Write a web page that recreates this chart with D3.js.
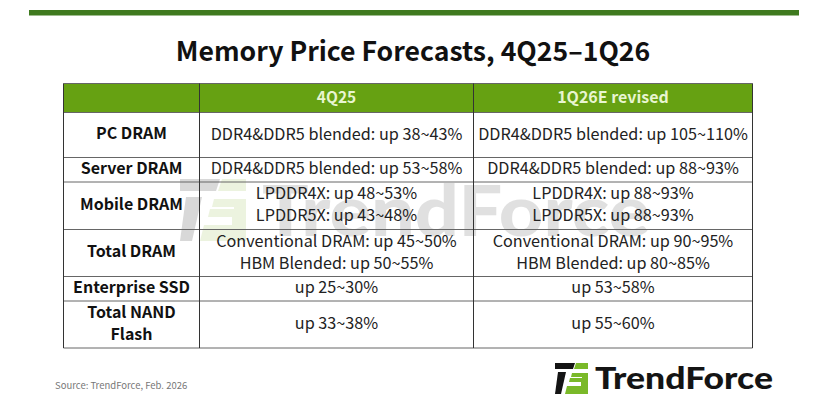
<!DOCTYPE html>
<html><head><meta charset="utf-8">
<script src="https://cdn.jsdelivr.net/npm/d3@7/dist/d3.min.js"></script>
<style>html,body{margin:0;padding:0;background:#fff;overflow:hidden}svg{display:block}</style>
</head><body><svg id="c" width="828" height="413"></svg>
<script>
const title = "Memory Price Forecasts, 4Q25–1Q26";
const headers = ["", "4Q25", "1Q26E revised"];
const rowLabels = [["PC DRAM"],["Server DRAM"],["Mobile DRAM"],["Total DRAM"],["Enterprise SSD"],["Total NAND","Flash"]];
const col4Q25 = [["DDR4&DDR5 blended: up 38~43%"],["DDR4&DDR5 blended: up 53~58%"],["LPDDR4X: up 48~53%","LPDDR5X: up 43~48%"],["Conventional DRAM: up 45~50%","HBM Blended: up 50~55%"],["up 25~30%"],["up 33~38%"]];
const col1Q26 = [["DDR4&DDR5 blended: up 105~110%"],["DDR4&DDR5 blended: up 88~93%"],["LPDDR4X: up 88~93%","LPDDR5X: up 88~93%"],["Conventional DRAM: up 90~95%","HBM Blended: up 80~85%"],["up 53~58%"],["up 55~60%"]];
const source = "Source: TrendForce, Feb. 2026";
const brand = "TrendForce";
const colEdges = [63.5,199.5,473.5,752.5];
const rowEdges = [83.5,112.5,157.5,182,229.5,276.5,301,348];
const F = "'Noto Sans CJK TC','Noto Sans',sans-serif";
const svg = d3.select("#c");
svg.append("rect").attr("x",29).attr("y",10).attr("width",770).attr("height",5.5).attr("fill","#3f7a1f");
svg.append("text").attr("x",413).attr("y",61).attr("text-anchor","middle").attr("font-family",F).attr("font-weight",700).attr("font-size",26.6).attr("fill","#111").text(title);
function mark(g,s,cols){
  const p=d=>g.append("path").attr("transform",`scale(${s})`);
  p().attr("d","M0 0H20L18 6H0Z").attr("fill",cols[0]);
  p().attr("d","M3 9H11L6 31H0Z").attr("fill",cols[0]);
  p().attr("d","M21 0H33V6H19Z").attr("fill",cols[1]);
  p().attr("d","M17 10H33V31H10L12 23H26V19H14L15 15H27V14H16Z").attr("fill",cols[1]);
}
const wm = svg.append("g").attr("opacity",0.38);
mark(wm.append("g").attr("transform","translate(180,179)"),2.0,["#9a9a9a","#cfe0ae"]);
wm.append("text").attr("x",262).attr("y",236).attr("font-family","'Lato','Noto Sans',sans-serif").attr("font-weight",900).attr("font-size",70).attr("textLength",388).attr("lengthAdjust","spacingAndGlyphs").attr("fill","#b0b0b0").text(brand);
svg.append("rect").attr("x",colEdges[0]).attr("y",rowEdges[0]).attr("width",colEdges[3]-colEdges[0]).attr("height",rowEdges[1]-rowEdges[0]).attr("fill","#66a112");
svg.selectAll("line.h").data(rowEdges).join("line").attr("class","h").attr("x1",colEdges[0]).attr("x2",colEdges[3]).attr("y1",d=>d).attr("y2",d=>d).attr("stroke","#666").attr("stroke-width",1);
svg.selectAll("line.v").data(colEdges).join("line").attr("class","v").attr("y1",rowEdges[0]).attr("y2",rowEdges[7]).attr("x1",d=>d).attr("x2",d=>d).attr("stroke","#333").attr("stroke-width",1);
function cell(lines,cx,i,opt){
  const cy=(rowEdges[i+1]+rowEdges[i+2])/2-1.3, lh=opt.lh;
  lines.forEach((t,k)=>{
    svg.append("text").attr("x",cx).attr("y",cy+(k-(lines.length-1)/2)*lh).attr("dy","0.36em")
      .attr("text-anchor","middle").attr("font-family",F).attr("font-size",opt.size).attr("font-weight",opt.w).attr("fill",opt.c).text(t);
  });
}
const mid=i=>(colEdges[i]+colEdges[i+1])/2;
headers.forEach((h,i)=>{ if(h) svg.append("text").attr("x",mid(i)).attr("y",97.5).attr("dy","0.36em").attr("text-anchor","middle").attr("font-family",F).attr("font-size",i===2?16:15.5).attr("font-weight",700).attr("fill","#e8f5d0").text(h); });
rowLabels.forEach((l,i)=>cell(l,mid(0),i,{size:16,w:700,c:"#111",lh:22}));
col4Q25.forEach((l,i)=>cell(l,mid(1),i,{size:16.2,w:400,c:"#222",lh:22}));
col1Q26.forEach((l,i)=>cell(l,mid(2),i,{size:16.2,w:400,c:"#222",lh:22}));
svg.append("text").attr("x",55).attr("y",389).attr("font-family",F).attr("font-size",9.5).attr("fill","#777").text(source);
mark(svg.append("g").attr("transform","translate(555,363)"),1,["#141414","#7ab929"]);
svg.append("text").attr("x",595).attr("y",389).attr("font-family","'Lato','Noto Sans',sans-serif").attr("font-weight",900).attr("font-size",30).attr("textLength",178).attr("lengthAdjust","spacingAndGlyphs").attr("fill","#141414").text(brand);
</script></body></html>
